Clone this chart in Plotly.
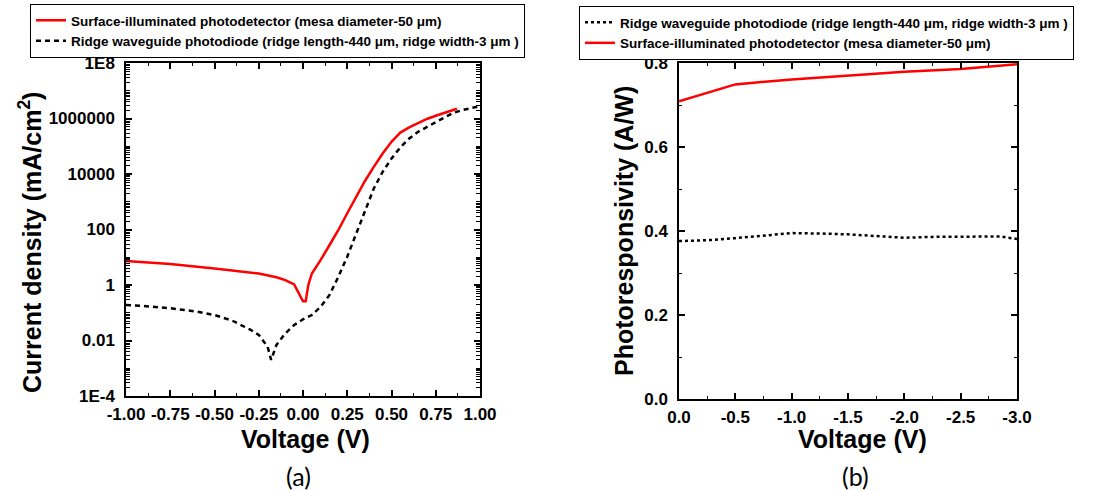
import plotly.graph_objects as go

# ---------- data: (a) current density vs voltage ----------
v_surface = [-1.0, -0.75, -0.5, -0.25, -0.15, -0.1, -0.05, 0.0, 0.015, 0.03, 0.05, 0.1, 0.15, 0.2,
             0.25, 0.3, 0.35, 0.4, 0.45, 0.5, 0.55, 0.6, 0.65, 0.7, 0.75, 0.8, 0.87]
j_surface = [7.3, 5.7, 3.9, 2.6, 1.9, 1.5, 1.05, 0.26, 0.26, 1.0, 2.6, 8.0, 27.6, 96,
             384, 1500, 5600, 18000, 55000, 1.45e5, 3.1e5, 4.8e5, 7.0e5, 9.6e5, 1.26e6, 1.6e6, 2.25e6]

v_ridge = [-1.0, -0.9, -0.75, -0.6, -0.5, -0.4, -0.3, -0.25, -0.2, -0.18, -0.15, -0.1, -0.05, 0.0,
           0.05, 0.1, 0.15, 0.2, 0.25, 0.3, 0.35, 0.4, 0.45, 0.5, 0.55, 0.6, 0.65, 0.7, 0.75,
           0.8, 0.85, 0.9, 1.0]
j_ridge = [0.19, 0.175, 0.145, 0.11, 0.083, 0.052, 0.025, 0.016, 0.006, 0.002, 0.0069, 0.018, 0.036, 0.058,
           0.083, 0.165, 0.44, 2.0, 10.5, 73, 500, 3000, 12000, 36000, 91000, 1.9e5, 3.3e5, 5.0e5, 7.6e5,
           1.1e6, 1.6e6, 2.0e6, 2.8e6]

# ---------- data: (b) photoresponsivity vs voltage ----------
v_resp_surface = [0.0, -0.5, -1.0, -1.5, -2.0, -2.5, -3.0]
r_surface = [0.709, 0.749, 0.761, 0.770, 0.779, 0.786, 0.797]

v_resp_ridge = [0.0, -0.25, -0.5, -0.75, -1.0, -1.25, -1.5, -1.75, -2.0, -2.25, -2.5, -2.85, -3.0]
r_ridge = [0.376, 0.378, 0.383, 0.389, 0.395, 0.394, 0.392, 0.388, 0.384, 0.386, 0.387, 0.387, 0.381]

# ---------- tick labels ----------
ja_tickvals = [1e-4, 1e-2, 1, 100, 1e4, 1e6, 1e8]
ja_ticktext = ["1E-4", "0.01", "1", "100", "10000", "1000000", "1E8"]
va_tickvals = [-1.0, -0.75, -0.5, -0.25, 0.0, 0.25, 0.5, 0.75, 1.0]
va_ticktext = ["-1.00", "-0.75", "-0.50", "-0.25", "0.00", "0.25", "0.50", "0.75", "1.00"]
vb_tickvals = [0.0, -0.5, -1.0, -1.5, -2.0, -2.5, -3.0]
vb_ticktext = ["0.0", "-0.5", "-1.0", "-1.5", "-2.0", "-2.5", "-3.0"]
rb_tickvals = [0.0, 0.2, 0.4, 0.6, 0.8]
rb_ticktext = ["0.0", "0.2", "0.4", "0.6", "0.8"]

name_surface = "Surface-illuminated photodetector (mesa diameter-50 μm)"
name_ridge = "Ridge waveguide photodiode (ridge length-440 μm, ridge width-3 μm )"

W, H = 1108, 491
FONT = "Liberation Sans, Arial, sans-serif"

def px_x(p):
    return p / W

def px_y(p):
    return 1 - p / H

fig = go.Figure()

fig.add_trace(go.Scatter(x=v_surface, y=j_surface, mode="lines", name=name_surface,
                         line=dict(color="#ff0000", width=2.5), xaxis="x", yaxis="y", legend="legend"))
fig.add_trace(go.Scatter(x=v_ridge, y=j_ridge, mode="lines", name=name_ridge,
                         line=dict(color="black", width=2.5, dash="5px,4px"), xaxis="x", yaxis="y",
                         legend="legend"))
fig.add_trace(go.Scatter(x=v_resp_ridge, y=r_ridge, mode="lines", name=name_ridge,
                         line=dict(color="black", width=2.5, dash="dot"), xaxis="x2", yaxis="y2",
                         legend="legend2"))
fig.add_trace(go.Scatter(x=v_resp_surface, y=r_surface, mode="lines", name=name_surface,
                         line=dict(color="#ff0000", width=2.5), xaxis="x2", yaxis="y2", legend="legend2"))

tickfont = dict(family=FONT, size=17, color="black", weight="bold")
common = dict(showline=True, linecolor="black", linewidth=1.5, mirror="allticks", ticks="inside",
              ticklen=6, tickwidth=1.5, tickcolor="black", showgrid=False, zeroline=False,
              tickfont=tickfont, tickmode="array", automargin=False, tickangle=0)

legend_font = dict(family=FONT, size=13.5, color="black", weight="bold")

fig.update_layout(
    width=W, height=H,
    margin=dict(l=0, r=0, t=0, b=0, autoexpand=False),
    paper_bgcolor="white", plot_bgcolor="white",
    font=dict(family=FONT, color="black"),
    xaxis=dict(domain=[px_x(126), px_x(480)], range=[-1, 1], anchor="y",
               tickvals=va_tickvals, ticktext=va_ticktext, ticklabelstandoff=2,
               minor=dict(ticks="inside", ticklen=3, tickwidth=1.2, tickcolor="black", dtick=0.125, tick0=0),
               **common),
    yaxis=dict(domain=[px_y(396), px_y(63)], type="log", range=[-4, 8], anchor="x",
               tickvals=ja_tickvals, ticktext=ja_ticktext, ticklabelstandoff=6,
               minor=dict(ticks="inside", ticklen=4, tickwidth=1, tickcolor="black", dtick="D1"),
               **common),
    xaxis2=dict(domain=[px_x(679), px_x(1017)], range=[0, -3], anchor="y2",
                tickvals=vb_tickvals, ticktext=vb_ticktext, ticklabelstandoff=2,
                minor=dict(ticks="inside", ticklen=3, tickwidth=1.2, tickcolor="black", dtick=0.25, tick0=0),
                **common),
    yaxis2=dict(domain=[px_y(399), px_y(63)], range=[0, 0.8], anchor="x2",
                tickvals=rb_tickvals, ticktext=rb_ticktext, ticklabelstandoff=6,
                minor=dict(ticks="inside", ticklen=3, tickwidth=1.2, tickcolor="black", dtick=0.1, tick0=0),
                **common),
    legend=dict(x=px_x(30), y=px_y(4), xanchor="left", yanchor="top",
                bordercolor="black", borderwidth=1, bgcolor="white",
                font=legend_font, tracegroupgap=0, itemwidth=30),
    legend2=dict(x=px_x(579), y=px_y(6), xanchor="left", yanchor="top",
                 bordercolor="black", borderwidth=1, bgcolor="white",
                 font=legend_font, tracegroupgap=0, itemwidth=30),
    showlegend=True,
)

title_font = dict(family=FONT, size=25, color="black", weight="bold")
label_font = dict(family="Lato, Open Sans, sans-serif", size=25, color="black")
annotations = [
    dict(text="Current density (mA/cm<sup>2</sup>)", x=px_x(30), y=px_y(243), textangle=-90,
         font=title_font),
    dict(text="Voltage (V)", x=px_x(305), y=px_y(439), font=title_font),
    dict(text="Photoresponsivity (A/W)", x=px_x(624), y=px_y(231), textangle=-90, font=title_font),
    dict(text="Voltage (V)", x=px_x(862), y=px_y(439), font=title_font),
    dict(text="(a)", x=px_x(298), y=px_y(476), font=label_font),
    dict(text="(b)", x=px_x(855), y=px_y(476), font=label_font),
]
for a in annotations:
    a.update(xref="paper", yref="paper", showarrow=False, xanchor="center", yanchor="middle")
fig.update_layout(annotations=annotations)

fig.write_html("out.html", config={"displayModeBar": False},
               post_script="document.body.style.margin='0px';")
